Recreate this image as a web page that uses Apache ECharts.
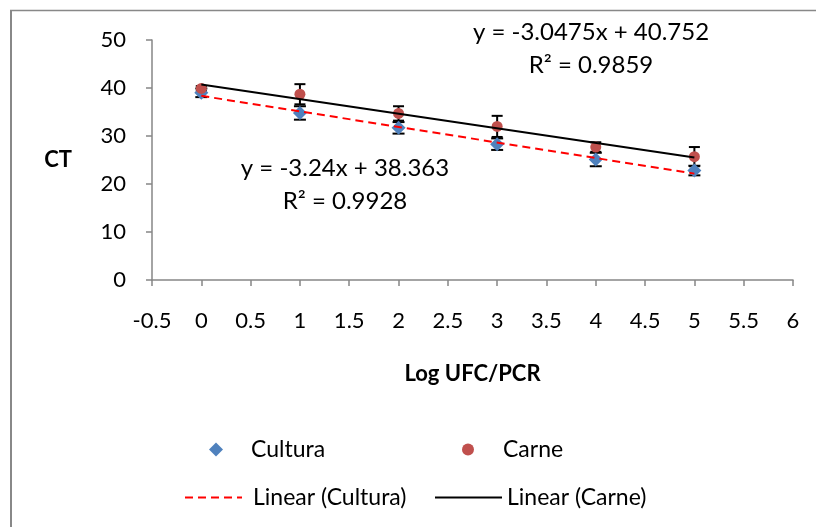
<!DOCTYPE html>
<html>
<head>
<meta charset="utf-8">
<script src="https://cdn.jsdelivr.net/npm/echarts@6/dist/echarts.min.js"></script>
<style>
  html, body { margin: 0; padding: 0; background: #fff; }
  #chart { width: 816px; height: 527px; }
</style>
</head>
<body>
<div id="chart"></div>
<script>
// x = log UFC/PCR
var logUfc = [0, 1, 2, 3, 4, 5];
var cultura = [39.0, 34.8, 31.7, 28.3, 25.1, 22.8];
var culturaErr = [0.9, 1.4, 1.2, 1.2, 1.4, 1.0];
var carne = [39.9, 38.7, 34.7, 32.0, 27.7, 25.7];
var carneErr = [0.5, 2.1, 1.5, 2.2, 1.0, 2.0];

// trendline equations shown on the chart
var fitCultura = { slope: -3.24, intercept: 38.363, r2: '0.9928' };
var fitCarne = { slope: -3.0475, intercept: 40.752, r2: '0.9859' };

var FONT = 'Lato';

function pairs(ys) {
  return logUfc.map(function (x, i) { return [x, ys[i]]; });
}
function trend(fit) {
  var x0 = logUfc[0], x1 = logUfc[logUfc.length - 1];
  return [[x0, fit.intercept + fit.slope * x0], [x1, fit.intercept + fit.slope * x1]];
}
function errData(ys, es) {
  return logUfc.map(function (x, i) { return [x, ys[i] - es[i], ys[i] + es[i]]; });
}
function errRender(capW) {
  return function (params, api) {
    var lo = api.coord([api.value(0), api.value(1)]);
    var hi = api.coord([api.value(0), api.value(2)]);
    var st = { stroke: '#000', lineWidth: 2 };
    return {
      type: 'group',
      children: [
        { type: 'line', shape: { x1: lo[0], y1: lo[1], x2: hi[0], y2: hi[1] }, style: st },
        { type: 'line', shape: { x1: lo[0] - capW / 2, y1: lo[1], x2: lo[0] + capW / 2, y2: lo[1] }, style: st },
        { type: 'line', shape: { x1: hi[0] - capW / 2, y1: hi[1], x2: hi[0] + capW / 2, y2: hi[1] }, style: st }
      ]
    };
  };
}

// legend icons for the trendlines (dashed and solid strokes)
var dashIcon = 'path://M0,0h8v2h-8z M13,0h8v2h-8z M26,0h8v2h-8z M39,0h8v2h-8z M52,0h5v2h-5z';
var solidIcon = 'path://M0,0h67v2h-67z';

var chart = echarts.init(document.getElementById('chart'));
var axisGray = '#868686';
var legendText = { fontFamily: FONT, fontSize: 23, color: '#000' };

var option = {
  animation: false,
  backgroundColor: '#fff',
  grid: { left: 152, right: 23, top: 40, bottom: 247, outerBoundsMode: 'none' },
  xAxis: {
    type: 'value',
    min: -0.5, max: 6, interval: 0.5,
    name: 'Log UFC/PCR',
    nameLocation: 'middle',
    nameGap: 83,
    nameTextStyle: { fontFamily: FONT, fontSize: 22, fontWeight: 'bold', color: '#000' },
    axisLine: { onZero: false, lineStyle: { color: axisGray, width: 1.5 } },
    axisTick: { show: true, inside: false, length: 6, lineStyle: { color: axisGray, width: 1.5 } },
    axisLabel: { margin: 30, fontFamily: FONT, fontSize: 22, color: '#000' },
    splitLine: { show: false }
  },
  yAxis: {
    type: 'value',
    min: 0, max: 50, interval: 10,
    name: 'CT',
    nameLocation: 'middle',
    nameRotate: 0,
    nameGap: 80,
    nameTextStyle: { fontFamily: FONT, fontSize: 22, fontWeight: 'bold', color: '#000' },
    axisLine: { show: true, onZero: false, lineStyle: { color: axisGray, width: 1.5 } },
    axisTick: { show: true, inside: false, length: 6, lineStyle: { color: axisGray, width: 1.5 } },
    axisLabel: { margin: 26, fontFamily: FONT, fontSize: 22, color: '#000' },
    splitLine: { show: false }
  },
  legend: [
    { data: ['Cultura'], left: 204, top: 433, itemWidth: 14, itemHeight: 14, textStyle: Object.assign({ padding: [0, 0, 0, 23] }, legendText) },
    { data: ['Carne'], left: 457, top: 433, itemWidth: 12, itemHeight: 12, textStyle: Object.assign({ padding: [0, 0, 0, 24] }, legendText) },
    { data: [{ name: 'Linear (Cultura)', icon: dashIcon }], left: 180, top: 481, itemWidth: 57, itemHeight: 2, textStyle: Object.assign({ padding: [0, 0, 0, 6] }, legendText) },
    { data: [{ name: 'Linear (Carne)', icon: solidIcon }], left: 430, top: 481, itemWidth: 67, itemHeight: 2, textStyle: Object.assign({ padding: [0, 0, 0, 0] }, legendText), itemGap: 0 }
  ],
  graphic: [
    // chart frame (only top and left edges fall inside the picture)
    { type: 'line', silent: true, z: -1, shape: { x1: 10, y1: 10.5, x2: 816, y2: 10.5 }, style: { stroke: '#888', lineWidth: 1.5 } },
    { type: 'line', silent: true, z: -1, shape: { x1: 11, y1: 10, x2: 11, y2: 527 }, style: { stroke: '#888', lineWidth: 2 } },
    { type: 'text', x: 591, y: 32, style: { text: 'y = ' + fitCarne.slope + 'x + ' + fitCarne.intercept, fontFamily: FONT, fontSize: 24, fill: '#000', align: 'center', verticalAlign: 'middle' } },
    { type: 'text', x: 591, y: 65, style: { text: 'R² = ' + fitCarne.r2, fontFamily: FONT, fontSize: 24, fill: '#000', align: 'center', verticalAlign: 'middle' } },
    { type: 'text', x: 345, y: 168, style: { text: 'y = ' + fitCultura.slope + 'x + ' + fitCultura.intercept, fontFamily: FONT, fontSize: 24, fill: '#000', align: 'center', verticalAlign: 'middle' } },
    { type: 'text', x: 345, y: 201, style: { text: 'R² = ' + fitCultura.r2, fontFamily: FONT, fontSize: 24, fill: '#000', align: 'center', verticalAlign: 'middle' } }
  ],
  series: [
    {
      name: 'Cultura err', type: 'custom', z: 2, silent: true,
      renderItem: errRender(12), data: errData(cultura, culturaErr)
    },
    {
      name: 'Carne err', type: 'custom', z: 2, silent: true,
      renderItem: errRender(11), data: errData(carne, carneErr)
    },
    {
      name: 'Cultura', type: 'scatter', z: 3,
      symbol: 'diamond', symbolSize: 14,
      itemStyle: { color: '#4F81BD', opacity: 1 },
      data: pairs(cultura)
    },
    {
      name: 'Carne', type: 'scatter', z: 3,
      symbol: 'circle', symbolSize: 11,
      itemStyle: { color: '#C0504D', opacity: 1 },
      data: pairs(carne)
    },
    {
      name: 'Linear (Cultura)', type: 'line', z: 4,
      symbol: 'none', showSymbol: false,
      lineStyle: { color: '#FF0000', width: 2, type: [8, 5] },
      itemStyle: { color: '#FF0000' },
      data: trend(fitCultura)
    },
    {
      name: 'Linear (Carne)', type: 'line', z: 4,
      symbol: 'none', showSymbol: false,
      lineStyle: { color: '#000', width: 2 },
      itemStyle: { color: '#000' },
      data: trend(fitCarne)
    }
  ]
};
chart.setOption(option);
</script>
</body>
</html>
